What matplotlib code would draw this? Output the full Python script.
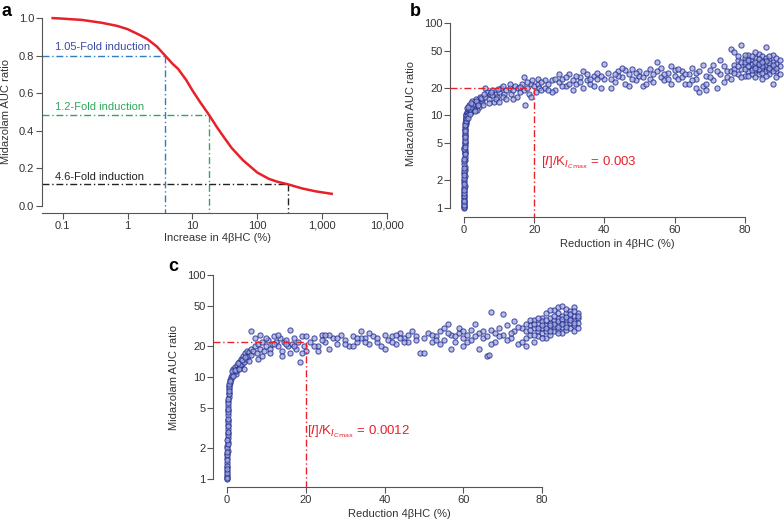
import matplotlib.pyplot as plt
from matplotlib.ticker import FixedLocator, FixedFormatter, NullLocator

plt.rcParams['font.family'] = ['Liberation Sans', 'DejaVu Sans']

# ---- panel a: predicted AUC ratio vs increase in 4bHC
curve_x = [0.07, 0.1, 0.2, 0.4, 0.7, 1, 1.5, 2, 2.8, 3.8, 5, 6, 8, 10, 13, 18, 24, 30, 40, 60, 100, 150, 200, 300, 500, 800, 1400]
curve_y = [1.0, 0.997, 0.99, 0.975, 0.958, 0.941, 0.912, 0.889, 0.85, 0.80, 0.755, 0.73, 0.671, 0.615, 0.555, 0.485, 0.418, 0.37, 0.31, 0.244, 0.178, 0.145, 0.13, 0.115, 0.093, 0.078, 0.065]
fold_labels = ['1.05-Fold induction', '1.2-Fold induction', '4.6-Fold induction']
fold_x = [3.8, 18, 292]
fold_y = [0.80, 0.485, 0.115]
fold_text_y = [0.845, 0.527, 0.154]
fold_line_colors = ['#2f7dc0', '#2fa85c', '#222222']
fold_text_colors = ['#3a4aa6', '#2fa85c', '#222222']
a_xticks = [0.1, 1, 10, 100, 1000, 10000]
a_xticklabels = ['0.1', '1', '10', '100', '1,000', '10,000']
a_yticks = [0.0, 0.2, 0.4, 0.6, 0.8, 1.0]

# ---- shared ticks for b and c
log_yticks = [1, 2, 5, 10, 20, 50, 100]
lin_xticks = [0, 20, 40, 60, 80]

# ---- panel b: simulated AUC ratio vs reduction in 4bHC
b_points = [
    (0.0, 1.0), (0.05, 1.05), (0.0, 1.1), (0.1, 1.2), (0.05, 1.3), (0.1, 1.4), (0.0, 1.5), (0.1, 1.6),
    (0.15, 1.75), (0.1, 1.9), (0.05, 2.0), (0.15, 2.2), (0.1, 2.4), (0.2, 2.6), (0.15, 2.8), (0.1, 3.0),
    (0.2, 3.3), (0.15, 3.6), (0.25, 3.9), (0.2, 4.2), (0.1, 4.5), (0.25, 4.8), (0.3, 5.2), (0.2, 5.6),
    (0.35, 6.0), (0.3, 6.5), (0.4, 7.0), (0.35, 7.5), (0.5, 8.0), (0.45, 8.5), (0.6, 9.0), (0.55, 9.5),
    (0.8, 10.0), (0.7, 10.5), (0.05, 1.15), (0.0, 1.25), (0.1, 1.35), (0.05, 1.7), (0.0, 2.1), (0.1, 2.5),
    (0.05, 3.2), (0.15, 4.0), (0.25, 5.0), (0.2, 6.2), (0.3, 7.2), (0.4, 8.2), (0.5, 9.2),
    (0.0, 1.02), (0.0, 1.08), (0.05, 1.18), (0.05, 1.45), (0.0, 1.55), (0.1, 1.8), (0.05, 2.3), (0.1, 2.7),
    (0.1, 3.4), (0.15, 3.8), (0.1, 4.3), (0.2, 4.6), (0.15, 5.3), (0.25, 5.8), (0.3, 6.8), (0.35, 7.8),
    (0.45, 8.8), (0.6, 9.8), (0.7, 9.4), (0.5, 10.2), (0.9, 10.8),
    (1.0, 11), (1.2, 10), (1.5, 12), (1.3, 11.5), (1.8, 12.5), (2.0, 11), (2.2, 13), (2.5, 12), (2.8, 14),
    (3.0, 13), (3.2, 12), (3.5, 15), (3.8, 13.5), (4.0, 14), (4.3, 12.5), (4.6, 16), (5.0, 14), (5.2, 15),
    (5.5, 13), (1.1, 9.5), (1.6, 10.5), (2.4, 14.5), (3.6, 11.5), (4.8, 15.5), (0.9, 12), (1.4, 13), (2.7, 11.5),
    (1.7, 11.8), (2.1, 12.2), (2.6, 13.2), (3.3, 14.2), (1.2, 12.4), (1.9, 13.6), (3.0, 11.2), (4.1, 13.0),
    (6, 16), (6.5, 18), (7, 15), (7.5, 17), (8, 19), (8.5, 14), (9, 17), (9.5, 16), (10, 18), (10.5, 20),
    (11, 21), (11.5, 17), (12, 19), (6, 20), (7, 13.5), (8, 16.5), (9, 15), (10, 14), (11, 16), (12, 15),
    (5.8, 17), (9.8, 19.5), (7.8, 18),
    (13, 20), (13.5, 17), (14, 19), (14.5, 21), (15, 16), (15.5, 20), (16, 18), (16.5, 22), (17, 19),
    (17.5, 13), (18, 20), (18.5, 17), (19, 22), (19.5, 24), (20, 21), (20.5, 18), (21, 22), (21.5, 20),
    (22, 19), (17, 26), (14, 15), (16, 20.5), (18, 23), (19, 16), (13, 22), (21, 25),
    (23, 20), (24, 22), (25, 24), (26, 19), (27, 23), (28, 25), (29, 21), (30, 28), (31, 24), (32, 22),
    (33, 26), (34, 30), (35, 24), (36, 22), (37, 27), (38, 25), (39, 20), (40, 36), (40, 25), (23, 24),
    (25, 18), (27, 28), (29, 26), (31, 19), (33, 23), (35, 28), (37, 21), (39, 27), (26, 25), (30, 22),
    (34, 20), (38, 29), (24, 19), (28, 21), (32, 27), (36, 25), (22, 23),
    (41, 29), (42, 25), (43, 23), (44, 30), (45, 26), (46, 22), (47, 28), (48, 32), (49, 24), (50, 27),
    (51, 21), (52, 29), (53, 25), (54, 23), (55, 38), (55, 30), (56, 26), (57, 24), (58, 29), (59, 22),
    (60, 27), (42, 20), (44, 27), (46, 31), (48, 25), (50, 30), (52, 22), (54, 28), (56, 33), (58, 25),
    (60, 31), (43, 28), (47, 21), (51, 26), (53, 32), (57, 28), (59, 34), (45, 33), (49, 29),
    (61, 25), (62, 30), (63, 22), (64, 28), (65, 33), (66, 25), (67, 18), (68, 21), (69, 27), (70, 31),
    (71, 24), (72, 20), (73, 28), (74, 34), (75, 26), (62, 26), (64, 22), (66, 29), (68, 35), (70, 26),
    (72, 30), (74, 23), (61, 32), (63, 28), (65, 24), (67, 30), (69, 22), (71, 35), (73, 40), (75, 30),
    (76, 52), (77, 48), (69, 19), (66, 20),
    (76, 30), (77, 35), (78, 28), (78, 40), (79, 32), (79, 58), (80, 36), (80, 27), (80, 42), (81, 30),
    (81, 38), (81, 45), (82, 33), (82, 28), (82, 40), (82, 36), (83, 31), (83, 35), (83, 42), (83, 26),
    (84, 34), (84, 38), (84, 30), (84, 46), (84, 28), (85, 36), (85, 32), (85, 40), (85, 44), (85, 25),
    (86, 33), (86, 37), (86, 30), (86, 42), (86, 55), (87, 35), (87, 31), (87, 40), (87, 28), (88, 38),
    (88, 33), (88, 45), (88, 22), (89, 36), (89, 30), (89, 42), (89, 26), (90, 34), (90, 40), (77, 32),
    (78, 34), (79, 38), (80, 32), (81, 34), (82, 44), (83, 38), (84, 32), (85, 29), (86, 35), (87, 44),
    (88, 30), (76, 25), (77, 29), (79, 26), (80, 45), (81, 27), (83, 48), (84, 41), (85, 34), (86, 27),
    (87, 37), (89, 33), (90, 28), (78, 44), (80, 38), (82, 31), (84, 36), (86, 39), (88, 35), (81, 40),
    (83, 33), (85, 38), (87, 33),
]
b_ref_x, b_ref_y = 20, 20
b_note = r'[$I$]/K$_{I_{C\mathrm{max}}}$ = 0.003'

# ---- panel c
c_points = [
    (0.0, 1.0), (0.05, 1.05), (0.0, 1.1), (0.1, 1.2), (0.05, 1.3), (0.1, 1.45), (0.0, 1.6), (0.1, 1.75),
    (0.15, 1.9), (0.1, 2.1), (0.15, 2.3), (0.2, 2.5), (0.15, 2.8), (0.2, 3.1), (0.25, 3.4), (0.2, 3.8),
    (0.3, 4.2), (0.25, 4.7), (0.35, 5.2), (0.3, 5.8), (0.4, 6.4), (0.45, 7.0), (0.5, 7.6), (0.6, 8.2),
    (0.7, 8.8), (0.8, 9.4), (0.9, 10.0), (1.0, 9.5), (0.05, 1.15), (0.1, 1.35), (0.05, 1.7), (0.1, 2.0),
    (0.2, 2.7), (0.25, 3.6), (0.3, 4.5), (0.35, 5.5), (0.4, 6.8), (0.55, 8.0),
    (0.0, 1.03), (0.05, 1.25), (0.1, 1.55), (0.05, 1.85), (0.15, 2.2), (0.1, 2.4), (0.2, 2.9), (0.15, 3.3),
    (0.25, 3.9), (0.3, 4.9), (0.35, 6.1), (0.45, 7.3), (0.6, 8.6), (0.75, 9.1),
    (1.2, 10.5), (1.5, 12), (1.8, 11), (2.0, 12.5), (2.2, 10.8), (2.5, 13), (2.8, 12), (3.0, 14),
    (3.2, 12.5), (3.5, 15), (3.8, 13.5), (4.0, 16), (4.2, 14), (4.5, 17), (4.8, 15), (5.0, 18),
    (5.3, 16), (5.6, 17.5), (6.0, 19), (1.3, 11.5), (2.4, 11.5), (3.4, 13), (4.4, 12), (5.5, 14.5),
    (6, 28), (6.2, 16.5), (1.6, 10.2), (2.1, 11.8), (2.7, 13.6), (3.1, 12.0), (3.7, 14.6), (4.6, 15.6),
    (6.5, 18), (7, 20), (7.5, 17), (8, 21), (8.5, 19), (9, 22), (9.5, 18), (10, 20), (10.5, 23), (11, 19),
    (11.5, 21), (12, 25), (12.5, 22), (13, 20), (13.5, 24), (14, 18), (14.5, 22), (15, 23), (15.5, 20),
    (16, 29), (16.5, 21), (17, 24), (17.5, 19), (18, 22), (18.5, 14), (19, 25), (19.5, 20), (20, 18),
    (7, 24), (8, 15), (9, 16), (10, 24), (11, 17), (12, 21), (13, 26), (14, 16), (15, 21), (17, 20),
    (19, 17), (20, 25), (8.5, 26), (16, 17),
    (21, 22), (22, 24), (23, 20), (24, 26), (25, 22), (26, 19), (27, 24), (28, 21), (29, 26), (30, 23),
    (31, 20), (32, 25), (33, 22), (34, 28), (35, 24), (36, 21), (37, 25), (38, 22), (39, 20), (40, 26),
    (41, 23), (42, 25), (43, 21), (44, 27), (45, 24), (46, 22), (47, 28), (48, 25), (49, 17), (50, 24),
    (51, 27), (52, 22), (53, 25), (54, 28), (55, 23), (56, 33), (57, 26), (58, 22), (59, 27), (60, 24),
    (22, 20), (24, 23), (26, 26), (28, 24), (30, 21), (32, 20), (34, 24), (36, 27), (38, 24), (40, 19),
    (42, 22), (44, 24), (46, 26), (48, 23), (50, 17), (52, 26), (54, 21), (56, 27), (58, 25), (60, 20),
    (25, 26), (35, 22), (45, 22), (55, 30), (23, 18), (33, 24), (43, 26), (53, 23), (57, 19), (59, 30),
    (61, 26), (62, 23), (63, 33), (64, 27), (65, 24), (66, 16), (67, 29), (68, 22), (69, 30), (70, 26),
    (71, 32), (72, 24), (73, 28), (74, 21), (75, 30), (61, 22), (63, 25), (65, 28), (67, 21), (69, 25),
    (71, 23), (73, 35), (62, 29), (64, 19), (66, 25), (68, 27), (70, 41), (72, 27), (74, 31), (67, 43),
    (60, 28), (66.5, 16.5),
    (76, 28), (76, 24), (77, 32), (77, 26), (78, 30), (78, 22), (78, 36), (79, 28), (79, 33), (79, 25),
    (80, 30), (80, 38), (80, 27), (80, 35), (81, 32), (81, 28), (81, 42), (81, 24), (82, 34), (82, 30),
    (82, 38), (82, 26), (83, 36), (83, 31), (83, 45), (83, 28), (84, 33), (84, 38), (84, 29), (84, 42),
    (84, 48), (85, 35), (85, 31), (85, 40), (85, 27), (85, 50), (86, 36), (86, 33), (86, 42), (86, 29),
    (86, 46), (87, 38), (87, 34), (87, 30), (87, 44), (88, 36), (88, 40), (88, 32), (88, 48), (88, 28),
    (89, 38), (89, 42), (89, 34), (89, 30), (76, 33), (77, 29), (78, 33), (79, 38), (80, 24), (81, 36),
    (82, 45), (83, 33), (84, 35), (85, 37), (86, 39), (87, 41), (88, 44), (89, 40), (77, 36), (79, 30),
    (81, 30), (83, 40), (85, 33), (87, 36), (75, 22), (76, 20), (78, 26), (80, 32), (82, 28), (84, 31),
    (86, 31), (88, 34), (82, 32), (84, 27),
]
c_ref_x, c_ref_y = 20, 22
c_note = r'[$I$]/K$_{I_{C\mathrm{max}}}$ = 0.0012'

RED = '#e8202a'
DASHDOT = (0, (5, 2, 1, 2))
W, H = 784, 525


def r_axes(ax):
    # R base-graphics look: only left/bottom axis, outward ticks, horizontal labels
    for s in ['top', 'right']:
        ax.spines[s].set_visible(False)
    for s in ['left', 'bottom']:
        ax.spines[s].set_color('#555555')
        ax.spines[s].set_linewidth(0.8)
    ax.tick_params(direction='out', length=4, width=0.8, colors='#555555',
                   labelcolor='#333333', labelsize=8, pad=1.5)
    ax.patch.set_alpha(0)


def px_axes(fig, left, top, right, bottom):
    return fig.add_axes([left / W, 1 - bottom / H, (right - left) / W, (bottom - top) / H])


fig = plt.figure(figsize=(7.84, 5.25), dpi=100)

# ---------------- a
ax = px_axes(fig, 42, 10, 392, 213)
ax.set_xscale('log')
ax.set_xlim(0.048, 11900)
ax.set_ylim(-0.037, 1.043)
for fx, fy, lc, tc, ty, lab in zip(fold_x, fold_y, fold_line_colors, fold_text_colors, fold_text_y, fold_labels):
    ax.plot([0.048, fx], [fy, fy], color=lc, lw=1, ls=DASHDOT)
    ax.plot([fx, fx], [fy, -0.037], color=lc, lw=1, ls=DASHDOT)
    ax.text(0.075, ty, lab, color=tc, fontsize=8, va='center')
ax.plot(curve_x, curve_y, color=RED, lw=1.8)
ax.xaxis.set_major_locator(FixedLocator(a_xticks))
ax.xaxis.set_major_formatter(FixedFormatter(a_xticklabels))
ax.xaxis.set_minor_locator(NullLocator())
ax.set_yticks(a_yticks)
ax.set_yticklabels(['%.1f' % v for v in a_yticks])
r_axes(ax)
ax.spines['bottom'].set_bounds(0.048, 10000)
ax.spines['left'].set_bounds(0, 1)
ax.set_xlabel('Increase in 4βHC (%)', fontsize=8, color='#333333', labelpad=2)
ax.set_ylabel('Midazolam AUC ratio', fontsize=8, color='#333333', labelpad=6)


def scatter_panel(ax, pts, ref_x, ref_y, note, note_x, note_y, xlabel, xlim, ylim):
    ax.set_yscale('log')
    ax.set_xlim(*xlim)
    ax.set_ylim(*ylim)
    xs = [p[0] for p in pts]
    ys = [p[1] for p in pts]
    ax.scatter(xs, ys, s=14, facecolor='#a3a9de', edgecolor='#1f2b8e', linewidth=0.8, alpha=0.75, zorder=3)
    ax.plot([xlim[0], ref_x], [ref_y, ref_y], color=RED, lw=1, ls=DASHDOT, zorder=4)
    ax.plot([ref_x, ref_x], [ref_y, ylim[0]], color=RED, lw=1, ls=DASHDOT, zorder=4)
    ax.text(note_x, note_y, note, color=RED, fontsize=9.5, va='center')
    ax.yaxis.set_major_locator(FixedLocator(log_yticks))
    ax.yaxis.set_major_formatter(FixedFormatter([str(v) for v in log_yticks]))
    ax.yaxis.set_minor_locator(NullLocator())
    ax.set_xticks(lin_xticks)
    r_axes(ax)
    ax.spines['bottom'].set_bounds(0, 80)
    ax.spines['left'].set_bounds(1, 100)
    ax.set_xlabel(xlabel, fontsize=8, color='#333333', labelpad=3)
    ax.set_ylabel('Midazolam AUC ratio', fontsize=8, color='#333333', labelpad=6)


# ---------------- b
ax = px_axes(fig, 450, 10, 784, 217)
scatter_panel(ax, b_points, b_ref_x, b_ref_y, b_note, 22, 3.1,
              'Reduction in 4βHC (%)', (-4.0, 91.2), (0.8, 138))

# ---------------- c
ax = px_axes(fig, 213, 268, 585, 487)
scatter_panel(ax, c_points, c_ref_x, c_ref_y, c_note, 20.3, 2.9,
              'Reduction 4βHC (%)', (-3.55, 90.9), (0.835, 117))

fig.text(2 / W, 1 - 3 / H, 'a', fontsize=13, fontweight='bold', va='top')
fig.text(410 / W, 1 - 3 / H, 'b', fontsize=13, fontweight='bold', va='top')
fig.text(168 / W, 1 - 258 / H, 'c', fontsize=13, fontweight='bold', va='top')

fig.savefig('out.png', dpi=100)
